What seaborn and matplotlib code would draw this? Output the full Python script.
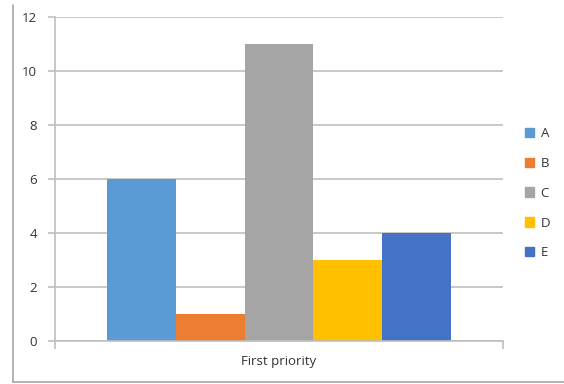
import matplotlib
matplotlib.use("Agg")
import matplotlib.pyplot as plt
import seaborn as sns
import pandas as pd
from matplotlib.lines import Line2D

categories = ["First priority"]
series = ["A", "B", "C", "D", "E"]
values = [6, 1, 11, 3, 4]
colors = ["#5B9BD5", "#ED7D31", "#A5A5A5", "#FFC000", "#4472C4"]
yticks = [0, 2, 4, 6, 8, 10, 12]

df = pd.DataFrame({"cat": categories * len(series), "series": series, "val": values})

sns.set_theme(style="white")
plt.rcParams["font.family"] = ["Open Sans", "DejaVu Sans"]

W, H = 564, 384
fig = plt.figure(figsize=(W / 100, H / 100), dpi=100)
ax = fig.add_axes([55 / W, (H - 341) / H, (503 - 55) / W, (341 - 17) / H])

sns.barplot(data=df, x="cat", y="val", hue="series", palette=colors,
            width=344 / 448, gap=0, ax=ax, legend=False, saturation=1,
            errorbar=None, linewidth=0)

ax.set_xlim(-0.5, 0.5)
ax.set_ylim(0, 12)
ax.set_yticks(yticks)
ax.set_yticklabels([str(t) for t in yticks])
ax.set_xlabel("")
ax.set_ylabel("")
ax.set_axisbelow(True)
ax.yaxis.grid(True, color="#BFBFBF", linewidth=1.2)
for s in ["top", "right"]:
    ax.spines[s].set_visible(False)
for s in ["left", "bottom"]:
    ax.spines[s].set_color("#BFBFBF")
    ax.spines[s].set_linewidth(1.2)
ax.tick_params(axis="y", which="major", length=5, color="#BFBFBF", width=1.2,
               labelsize=9.5, labelcolor="#333333", pad=8, left=True)
ax.tick_params(axis="x", which="major", length=0, labelsize=9.5,
               labelcolor="#333333", pad=10)
ax.set_xticks([-0.5, 0.5], minor=True)
ax.tick_params(axis="x", which="minor", length=6, color="#BFBFBF", width=1.2, bottom=True)

handles = [plt.Rectangle((0, 0), 1, 1, color=c) for c in colors]
leg = fig.legend(handles, series, loc="upper left",
                 bbox_to_anchor=(513 / W, 1 - 115 / H), frameon=False,
                 fontsize=9.5, handlelength=0.7, handleheight=0.7,
                 handletextpad=0.5, labelspacing=1.28)
for t in leg.get_texts():
    t.set_color("#333333")

fig.add_artist(Line2D([13 / W, 13 / W], [1 - 5 / H, 1 - 382 / H],
                      transform=fig.transFigure, color="#A6A6A6", linewidth=1.2))
fig.add_artist(Line2D([13 / W, 1], [1 - 382 / H, 1 - 382 / H],
                      transform=fig.transFigure, color="#A6A6A6", linewidth=1.2))

fig.savefig("out.png", dpi=100)
